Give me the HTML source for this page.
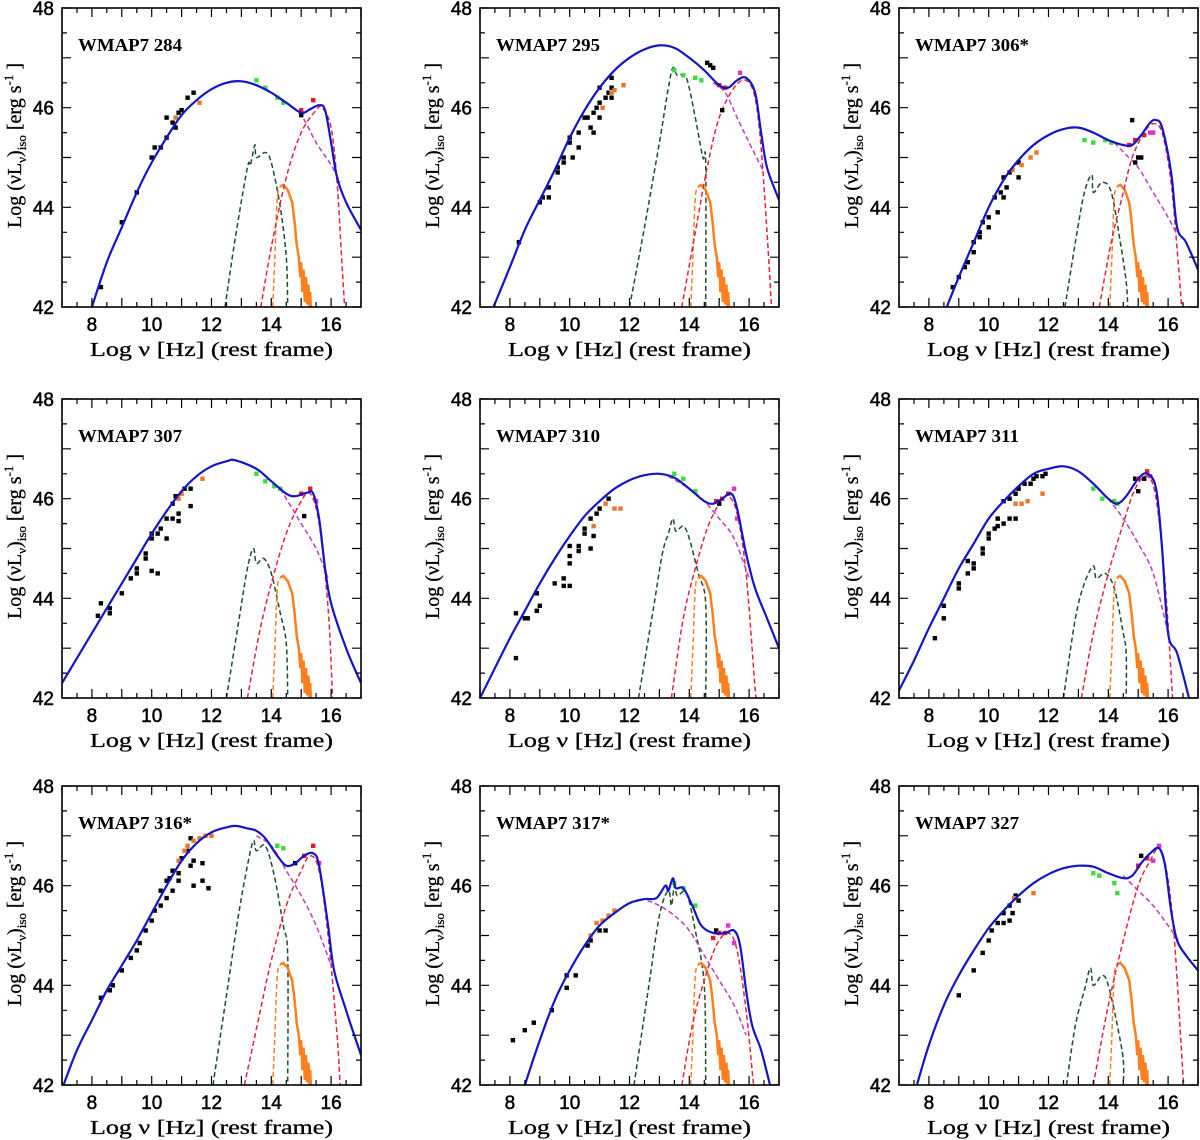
<!DOCTYPE html>
<html><head><meta charset="utf-8"><title>SED panels</title>
<style>
html,body{margin:0;padding:0;background:#fff;}
svg{display:block;font-family:"Liberation Sans",sans-serif;}
.tick{font-size:19px;fill:#000;stroke:#000;stroke-width:0.5px;}
.lab{font-family:"Liberation Serif",serif;font-size:20px;fill:#000;stroke:#000;stroke-width:0.3px;}
.name{font-family:"Liberation Serif",serif;font-size:18px;font-weight:bold;fill:#000;}
</style></head>
<body>
<svg id="fig" width="1200" height="1140" viewBox="0 0 1200 1140" xmlns="http://www.w3.org/2000/svg"></svg>
<script>
const panelNames = ["WMAP7 284","WMAP7 295","WMAP7 306*","WMAP7 307","WMAP7 310","WMAP7 311","WMAP7 316*","WMAP7 317*","WMAP7 327"];
const xTickLabels = [8,10,12,14,16];
const yTickLabels = [42,44,46,48];

const blueCurves = [
 [[8,42],[8.5,42.9],[9,43.6],[9.5,44.3],[10,44.9],[10.5,45.4],[11,45.85],[11.5,46.15],[12,46.37],[12.5,46.5],[13,46.53],[13.5,46.45],[14,46.3],[14.5,46.1],[15,45.9],[15.3,45.97],[15.6,46.05],[15.8,45.95],[16,45.3],[16.2,44.6],[16.5,44.1],[17,43.55]],
 [[7.45,42],[8,42.8],[8.5,43.55],[9,44.15],[9.5,44.75],[10,45.4],[10.5,45.95],[11,46.4],[11.5,46.75],[12,47.0],[12.5,47.17],[13,47.25],[13.5,47.2],[14,47.0],[14.5,46.75],[15,46.45],[15.3,46.4],[15.6,46.55],[15.9,46.6],[16.2,46.3],[16.4,45.5],[16.6,44.8],[17,44.15]],
 [[8.6,42],[9,42.6],[9.5,43.3],[10,44.0],[10.5,44.55],[11,44.95],[11.5,45.25],[12,45.45],[12.5,45.57],[13,45.6],[13.5,45.5],[14,45.35],[14.5,45.25],[14.8,45.25],[15.1,45.45],[15.4,45.7],[15.6,45.75],[15.8,45.6],[16.1,44.7],[16.3,43.6],[16.6,43.3],[17,42.75]],
 [[7,42.3],[7.5,42.8],[8,43.3],[8.5,43.8],[9,44.3],[9.5,44.8],[10,45.3],[10.5,45.75],[11,46.15],[11.5,46.45],[12,46.65],[12.5,46.75],[12.8,46.77],[13.5,46.6],[14,46.35],[14.5,46.1],[14.8,46.05],[15.2,46.12],[15.4,46.1],[15.6,45.6],[15.8,44.6],[16,43.9],[16.5,43.0],[17,42.3]],
 [[7,42],[7.5,42.6],[8,43.2],[8.5,43.75],[9,44.3],[9.5,44.8],[10,45.25],[10.5,45.65],[11,45.95],[11.5,46.2],[12,46.37],[12.5,46.47],[13,46.5],[13.5,46.42],[14,46.2],[14.5,45.95],[14.8,45.9],[15.1,46.0],[15.4,46.1],[15.6,45.8],[15.9,44.9],[16.2,44.2],[16.6,43.6],[17,43.0]],
 [[7,42.15],[7.5,42.75],[8,43.4],[8.5,44.0],[9,44.6],[9.5,45.1],[10,45.6],[10.5,45.95],[11,46.25],[11.5,46.5],[12,46.6],[12.5,46.65],[13,46.55],[13.5,46.3],[14,46.0],[14.3,45.9],[14.6,46.05],[15,46.4],[15.3,46.5],[15.6,46.2],[15.8,45.0],[16,43.3],[16.3,42.9],[16.7,42]],
 [[7.05,42],[7.5,42.7],[8,43.3],[8.5,43.9],[9,44.4],[9.5,44.9],[10,45.45],[10.5,46.0],[11,46.5],[11.5,46.85],[12,47.07],[12.5,47.17],[12.8,47.2],[13.2,47.15],[13.5,47.1],[13.8,46.95],[14.2,46.6],[14.5,46.4],[14.8,46.45],[15.1,46.6],[15.4,46.65],[15.6,46.4],[15.9,45.2],[16.1,44.3],[16.5,43.5],[17,42.6]],
 [[8.5,42],[9,42.9],[9.5,43.7],[10,44.3],[10.5,44.8],[11,45.2],[11.5,45.45],[12,45.65],[12.5,45.73],[12.9,45.75],[13.2,46.0],[13.3,45.9],[13.45,46.15],[13.55,45.95],[13.8,45.95],[14.1,45.6],[14.4,45.2],[14.8,45.05],[15.2,45.05],[15.5,45.1],[15.7,44.8],[15.9,43.9],[16.1,43.2],[16.4,42.7],[16.7,42]],
 [[7.6,42],[8,42.8],[8.5,43.6],[9,44.2],[9.5,44.7],[10,45.15],[10.5,45.5],[11,45.8],[11.5,46.05],[12,46.23],[12.5,46.35],[13,46.4],[13.5,46.38],[14,46.25],[14.5,46.15],[14.8,46.2],[15.1,46.45],[15.4,46.65],[15.7,46.75],[15.9,46.4],[16.1,45.5],[16.3,44.9],[16.6,44.6],[17,44.3]]
];
const synchCurves = [
 [[14.5,46.1],[15,45.85],[15.5,45.3],[16,44.85],[16.3,44.5]],
 [[14.8,46.5],[15.2,46.3],[15.6,45.8],[16,45.3],[16.5,44.7]],
 [[14.2,45.3],[14.6,45.05],[15,44.8],[15.5,44.3],[16,43.8],[16.3,43.45]],
 [[14.3,46.2],[14.7,45.8],[15,45.5],[15.5,45.0],[15.9,44.4]],
 [[13.3,46.45],[14,46.2],[14.5,45.95],[15,45.6],[15.5,45.2],[16,44.4]],
 [[14.0,46.0],[14.5,45.6],[15,45.1],[15.5,44.5],[16,43.3]],
 [[13.5,47.0],[14,46.8],[14.5,46.3],[15,45.8],[15.5,45.2],[16,44.4]],
 [[12.6,45.7],[13,45.6],[13.5,45.4],[14,45.1],[14.5,44.6],[15,44.1],[15.5,43.6],[15.9,43.0]],
 [[14.5,46.2],[15,45.9],[15.5,45.6],[16,45.2],[16.35,44.9]]
];
const icCurves = [
 [[13.65,42],[14,43.2],[14.5,44.6],[15,45.5],[15.5,45.95],[15.7,46.0],[16,45.6],[16.2,44.5],[16.35,43.0],[16.45,42]],
 [[13.75,42],[14.2,43.5],[14.6,44.8],[15,45.8],[15.5,46.4],[15.9,46.55],[16.2,46.2],[16.4,45.2],[16.6,43.5],[16.75,42]],
 [[13.7,42],[14.1,43.3],[14.5,44.3],[14.8,45.0],[15.2,45.5],[15.5,45.68],[15.8,45.5],[16.1,44.5],[16.35,42.8],[16.45,42]],
 [[13.2,42],[13.6,43.3],[14,44.3],[14.5,45.3],[15,45.95],[15.3,46.1],[15.6,45.5],[15.9,43.8],[16.05,42]],
 [[13.4,42],[13.8,43.6],[14.2,44.6],[14.6,45.4],[15,45.9],[15.3,46.05],[15.6,45.7],[15.9,44.5],[16.2,42.2],[16.25,42]],
 [[13.1,42],[13.5,43.3],[14,44.5],[14.5,45.5],[14.9,46.2],[15.3,46.45],[15.6,46.0],[15.9,44.3],[16.15,42]],
 [[13.1,42],[13.6,43.4],[14,44.5],[14.5,45.6],[15,46.3],[15.3,46.6],[15.6,46.3],[15.9,45.0],[16.2,43.0],[16.3,42]],
 [[13.75,42],[14.1,43.2],[14.5,44.1],[14.9,44.8],[15.3,45.05],[15.6,44.7],[15.9,43.5],[16.1,42.3],[16.15,42]],
 [[13.5,42],[14,43.6],[14.5,44.9],[15,46.0],[15.4,46.5],[15.7,46.75],[15.95,46.3],[16.2,45.0],[16.5,42.2],[16.55,42]]
];
const torusCurves = [
 [[12.45,42],[12.8,43.4],[13.2,44.8],[13.3,44.85],[13.45,45.25],[13.5,45.0],[13.8,45.1],[14.0,44.9],[14.3,44.0],[14.5,43.0],[14.55,42]],
 [[12.0,42],[12.5,43.6],[13,45.3],[13.3,46.4],[13.45,46.8],[13.6,46.65],[13.9,46.6],[14.2,45.8],[14.45,45.0],[14.55,44.9],[14.55,42]],
 [[12.55,42],[12.9,43.3],[13.2,44.3],[13.45,44.65],[13.5,44.3],[13.8,44.5],[14.1,44.3],[14.4,43.3],[14.6,42.5],[14.65,42]],
 [[12.5,42],[12.9,43.5],[13.2,44.6],[13.4,45.0],[13.5,44.7],[13.75,44.8],[14.0,44.5],[14.3,43.7],[14.5,43.1],[14.55,42]],
 [[12.3,42],[12.8,43.8],[13.1,44.9],[13.3,45.3],[13.45,45.6],[13.55,45.35],[13.8,45.45],[14.0,45.2],[14.3,44.5],[14.55,43.9],[14.55,42]],
 [[12.5,42],[12.9,43.6],[13.2,44.3],[13.5,44.65],[13.6,44.4],[13.9,44.5],[14.2,44.2],[14.5,43.3],[14.6,42.9],[14.6,42]],
 [[12.05,42],[12.5,43.8],[12.9,45.4],[13.2,46.4],[13.4,46.9],[13.5,46.7],[13.8,46.8],[14.1,46.2],[14.4,45.2],[14.55,44.6],[14.55,42]],
 [[12.15,42],[12.6,43.8],[13,45.4],[13.3,45.9],[13.4,45.6],[13.5,46.0],[13.6,45.8],[13.9,45.85],[14.2,45.1],[14.5,44.0],[14.55,42]],
 [[12.6,42],[12.9,43.2],[13.2,43.9],[13.4,44.35],[13.5,44.0],[13.8,44.2],[14.0,44.0],[14.3,43.2],[14.5,42.5],[14.5,42]]
];
const diskDashed = [[14.05,42],[14.12,43.0],[14.2,44.2],[14.3,44.42]];
const diskTemplate = [[14.3,44.42],[14.4,44.45],[14.55,44.35],[14.7,44.1],[14.78,43.7],[14.85,43.25],[14.92,43.0],[14.97,42.6],[15.0,42.9],[15.04,42.3],[15.08,42.75],[15.12,42.1],[15.16,42.6],[15.2,42.05],[15.24,42.45],[15.28,42.0],[15.3,42.3],[15.32,42.0]];

const blackPts = [
 [[8.3,42.4],[9,43.7],[9.5,44.3],[10,45],[10.1,45.2],[10.3,45.2],[10.5,45.4],[10.5,45.8],[10.7,45.7],[10.8,45.6],[10.9,45.9],[11,45.95],[11.2,46.2],[11.4,46.3],[15.0,45.85]],
 [[8.3,43.3],[9,44.1],[9.1,44.2],[9.3,44.2],[9.3,44.4],[9.6,44.7],[9.6,44.8],[9.8,44.9],[9.8,45.0],[10,45.3],[10,45.4],[10.1,45.0],[10.3,45.5],[10.3,45.2],[10.5,45.8],[10.6,45.8],[10.7,45.6],[10.8,45.9],[10.8,45.5],[10.9,46.0],[11,46.1],[11,45.8],[11.2,46.2],[11.3,46.3],[11.4,46.4],[11.4,46.2],[11.4,46.6],[11.0,46.4],[14.6,46.9],[14.7,46.85],[14.8,46.8],[15.1,45.95]],
 [[8.8,42.4],[9,42.6],[9.2,42.8],[9.3,42.9],[9.5,43.3],[9.5,43.1],[9.7,43.5],[9.7,43.4],[9.8,43.7],[10,43.8],[10,43.6],[10.2,44.2],[10.4,44.3],[10.3,43.9],[10.5,44.6],[10.5,44.2],[10.6,44.4],[10.7,44.7],[11,44.9],[11,44.6],[14.8,45.75],[15.0,45.0],[15.1,45.0],[14.9,44.9]],
 [[8.2,43.65],[8.3,43.9],[8.6,43.8],[8.6,43.7],[9,44.1],[9.3,44.4],[9.5,44.6],[9.5,44.5],[9.8,44.8],[9.8,44.9],[10,45.2],[10,45.3],[10,44.55],[10.2,44.5],[10.2,45.3],[10.3,45.4],[10.5,45.2],[10.5,45.6],[10.7,45.6],[10.7,45.9],[10.9,45.7],[10.9,45.55],[10.8,46.05],[11.1,46.2],[11.3,46.2],[11.3,45.85],[15.1,45.65]],
 [[8.2,43.7],[8.2,42.8],[8.5,43.6],[8.6,43.6],[8.9,43.75],[8.9,44.1],[9.0,43.85],[9.5,44.3],[9.8,44.4],[9.8,44.25],[10,44.25],[10,44.7],[10,44.85],[10,45.05],[10.3,45.05],[10.3,44.95],[10.5,45.3],[10.5,45.4],[10.7,45.0],[10.7,45.6],[10.8,45.25],[10.9,45.7],[11,45.8],[11.3,46.0],[15.0,45.9]],
 [[8.2,43.2],[8.5,43.6],[8.5,43.85],[9,44.2],[9,44.3],[9.3,44.5],[9.3,44.75],[9.5,44.6],[9.5,44.7],[9.8,44.9],[9.8,45.0],[10,45.2],[10,45.3],[10.2,45.4],[10.3,45.6],[10.3,45.45],[10.5,45.5],[10.5,45.95],[10.7,45.6],[10.7,46.0],[10.9,45.6],[10.9,46.1],[11,46.2],[11.2,46.3],[11.4,46.3],[11.5,46.4],[11.6,46.45],[11.8,46.45],[11.9,46.5],[14.9,46.4],[15.0,46.15],[15.2,46.4]],
 [[8.3,43.75],[8.6,43.9],[8.7,44.0],[9.0,44.3],[9.3,44.55],[9.5,44.7],[9.6,44.85],[9.8,45.1],[10,45.3],[10.1,45.5],[10.3,45.6],[10.3,45.9],[10.5,45.75],[10.5,46.1],[10.6,46.15],[10.7,45.9],[10.7,46.3],[10.9,46.25],[10.9,46.1],[11.0,46.55],[11.2,46.7],[11.3,46.4],[11.3,46.95],[11.4,46.5],[11.4,46.0],[11.7,46.45],[11.7,46.1],[11.9,45.95],[14.8,46.45]],
 [[8.1,42.9],[8.5,43.1],[8.8,43.25],[9.4,43.5],[9.9,44.2],[9.9,43.95],[10.2,44.2],[10.6,44.8],[10.7,44.9],[11,45.1],[11.2,45.1],[14.9,45.1]],
 [[9.0,43.8],[9.5,44.3],[9.8,44.65],[10,44.9],[10.1,45.1],[10.3,45.25],[10.5,45.25],[10.5,45.45],[10.7,45.3],[10.7,45.6],[10.8,45.45],[10.9,45.8],[11,45.7],[15.1,46.6]]
];
const orangePts = [
 [[10.8,45.8],[11.6,46.1]],
 [[11.1,46.0],[11.5,46.35],[11.8,46.45],[11.4,46.3]],
 [[10.8,44.75],[11.1,44.85],[11.4,45.0],[11.6,45.1]],
 [[10.9,46.0],[11.0,46.1],[11.7,46.4]],
 [[10.8,45.45],[11.2,45.9],[11.5,45.8],[11.7,45.8]],
 [[10.9,45.9],[11.1,45.9],[11.3,45.95],[11.8,46.1]],
 [[10.9,46.5],[11.1,46.7],[11.2,46.8],[11.4,46.9],[11.6,46.95],[11.8,47.0],[12,47.0]],
 [[10.7,45.0],[10.9,45.25],[11.1,45.3],[11.3,45.4],[11.5,45.5]],
 [[10.85,45.75],[11.5,45.85]]
];
const greenPts = [
 [[13.5,46.55],[13.8,46.4],[14.2,46.2],[14.4,46.1]],
 [[13.5,46.75],[13.8,46.65],[14.2,46.6],[14.4,46.55]],
 [[13.2,45.35],[13.5,45.3],[13.9,45.35],[14.1,45.3]],
 [[13.5,46.5],[13.8,46.35],[14.1,46.25],[14.3,46.2]],
 [[13.5,46.5],[13.8,46.4],[14.2,46.15]],
 [[13.5,46.2],[13.8,46.0],[14.2,45.95],[14.3,45.9]],
 [[14.2,46.8],[14.4,46.75]],
 [[13.5,46.05],[13.8,45.95],[14.2,45.6]],
 [[13.5,46.25],[13.7,46.2],[14.2,46.05],[14.3,45.85]]
];
const redPts = [
 [[15.0,45.95],[15.4,46.15]],
 [[15.0,46.45],[15.2,46.4]],
 [[14.7,45.25],[14.9,45.35],[15.2,45.45]],
 [[15.0,46.1],[15.3,46.2]],
 [[14.9,45.95],[15.1,46.0],[15.3,46.1]],
 [[15.3,46.55],[15.0,46.4]],
 [[15.4,46.8],[15.1,46.6]],
 [[14.8,44.95],[15.0,45.05],[15.2,45.05]],
 [[15.0,46.4],[15.3,46.55]]
];
const magentaPts = [
 [],
 [[15.7,46.7]],
 [[15.4,45.5],[15.5,45.5]],
 [[15.5,45.95]],
 [[15.5,46.2],[15.6,45.6]],
 [[15.4,46.45]],
 [[15.6,46.45]],
 [[15.3,45.2],[15.5,44.85]],
 [[15.5,46.5],[15.7,46.8]]
];

const NS = "http://www.w3.org/2000/svg";
const fig = document.getElementById('fig');
const lefts = [62,480,899], tops = [8,399,786];
const W = 299, H = 299;
const XMIN = 7, XMAX = 17, YMIN = 42, YMAX = 48;

function mk(tag, attrs, parent){
  const e = document.createElementNS(NS, tag);
  for (const k in attrs) e.setAttribute(k, attrs[k]);
  parent.appendChild(e);
  return e;
}
function smoothPath(pts, sx, sy){
  const p = pts.map(q => [sx(q[0]), sy(q[1])]);
  let d = "M" + p[0][0].toFixed(1) + "," + p[0][1].toFixed(1);
  for (let i = 0; i < p.length - 1; i++){
    const p0 = p[Math.max(0,i-1)], p1 = p[i], p2 = p[i+1], p3 = p[Math.min(p.length-1,i+2)];
    const c1 = [p1[0] + (p2[0]-p0[0])/6, p1[1] + (p2[1]-p0[1])/6];
    const c2 = [p2[0] - (p3[0]-p1[0])/6, p2[1] - (p3[1]-p1[1])/6];
    d += " C" + c1[0].toFixed(1)+","+c1[1].toFixed(1)+" "+c2[0].toFixed(1)+","+c2[1].toFixed(1)+" "+p2[0].toFixed(1)+","+p2[1].toFixed(1);
  }
  return d;
}
function linePath(pts, sx, sy){
  return pts.map((q,i) => (i?"L":"M") + sx(q[0]).toFixed(1) + "," + sy(q[1]).toFixed(1)).join(" ");
}

for (let i = 0; i < 9; i++){
  const L = lefts[i % 3], T = tops[Math.floor(i / 3)];
  const sx = v => L + (v - XMIN) / (XMAX - XMIN) * W;
  const sy = v => T + H - (v - YMIN) / (YMAX - YMIN) * H;
  const g = mk('g', {}, fig);
  
  

  const clipId = 'clip' + i;
  const cp = mk('clipPath', {id: clipId}, g);
  mk('rect', {x: L, y: T, width: W, height: H}, cp);
  const plot = mk('g', {'clip-path': 'url(#' + clipId + ')'}, g);

  const dash = '5,3';
  const t = mk('path', {d: smoothPath(torusCurves[i], sx, sy), fill: 'none', stroke: '#1e4d2b', 'stroke-width': 1.5, 'stroke-dasharray': dash}, plot);
  
  
  const dd = mk('path', {d: smoothPath(diskDashed, sx, sy), fill: 'none', stroke: '#ff7f1e', 'stroke-width': 1.5, 'stroke-dasharray': dash}, plot);
  
  
  const dt = mk('path', {d: linePath(diskTemplate, sx, sy), fill: 'none', stroke: '#ff7f1e', 'stroke-width': 2.5}, plot);
  
  
  const ic = mk('path', {d: smoothPath(icCurves[i], sx, sy), fill: 'none', stroke: '#e6213c', 'stroke-width': 1.5, 'stroke-dasharray': dash}, plot);
  
  
  const sy1 = mk('path', {d: smoothPath(synchCurves[i], sx, sy), fill: 'none', stroke: '#c03cc0', 'stroke-width': 1.5, 'stroke-dasharray': dash}, plot);
  
  

  const groups = [[blackPts[i], '#000', 'data-point-black'], [orangePts[i], '#e8782a', 'data-point-orange'], [greenPts[i], '#3cdc3c', 'data-point-green'], [redPts[i], '#dd1c2c', 'data-point-red'], [magentaPts[i], '#e030d0', 'data-point-magenta']];
  for (const [arr, col, nm] of groups){
    for (const q of arr){
      const r = mk('rect', {x: (sx(q[0]) - 2.2).toFixed(1), y: (sy(q[1]) - 2.2).toFixed(1), width: 4.4, height: 4.4, fill: col}, plot);
      
      
    }
  }

  const b = mk('path', {d: smoothPath(blueCurves[i], sx, sy), fill: 'none', stroke: '#1414c8', 'stroke-width': 2.2}, plot);
  
  

  let tk = '';
  for (let v = 7; v <= 17.001; v += 0.5){
    const x = sx(v), len = (Math.abs(v - Math.round(v)) < 0.01) ? 9 : 5;
    tk += `M${x.toFixed(1)},${T+H}v${-len}M${x.toFixed(1)},${T}v${len}`;
  }
  for (let v = 42; v <= 48.001; v += 0.5){
    const y = sy(v), len = (Math.abs(v - Math.round(v)) < 0.01) ? 9 : 5;
    tk += `M${L},${y.toFixed(1)}h${len}M${L+W},${y.toFixed(1)}h${-len}`;
  }
  const ticks = mk('path', {d: tk, stroke: '#000', 'stroke-width': 1.2, fill: 'none'}, g);
  
  
  const frame = mk('rect', {x: L, y: T, width: W, height: H, fill: 'none', stroke: '#000', 'stroke-width': 1.6}, g);
  
  

  for (const v of xTickLabels){
    const tx = mk('text', {x: sx(v), y: T + H + 24, 'text-anchor': 'middle', class: 'tick'}, g);
    tx.textContent = v;
    
    
  }
  for (const v of yTickLabels){
    const ty = mk('text', {x: L - 8, y: sy(v) + 7, 'text-anchor': 'end', class: 'tick'}, g);
    ty.textContent = v;
    
    
  }
  const xl = mk('text', {x: L + W/2, y: T + H + 49, 'text-anchor': 'middle', class: 'lab', textLength: 243, lengthAdjust: 'spacingAndGlyphs'}, g);
  xl.textContent = 'Log \u03bd [Hz] (rest frame)';
  
  

  const yl = mk('text', {x: 0, y: 0, 'text-anchor': 'middle', class: 'lab', transform: `translate(${L-41},${T+H/2 - 12}) rotate(-90)`}, g);
  
  
  yl.innerHTML = 'Log (\u03bdL<tspan dy="5" font-size="13">\u03bd</tspan><tspan dy="-5">)</tspan><tspan dy="5" font-size="13">iso</tspan><tspan dy="-5"> [erg s</tspan><tspan dy="-8" font-size="13">-1</tspan><tspan dy="8"> ]</tspan>';

  const nm = mk('text', {x: L + 16, y: T + 43, class: 'name', textLength: panelNames[i].length > 9 ? 114 : 104, lengthAdjust: 'spacingAndGlyphs'}, g);
  nm.textContent = panelNames[i];
  
  
}
</script>
</body></html>
